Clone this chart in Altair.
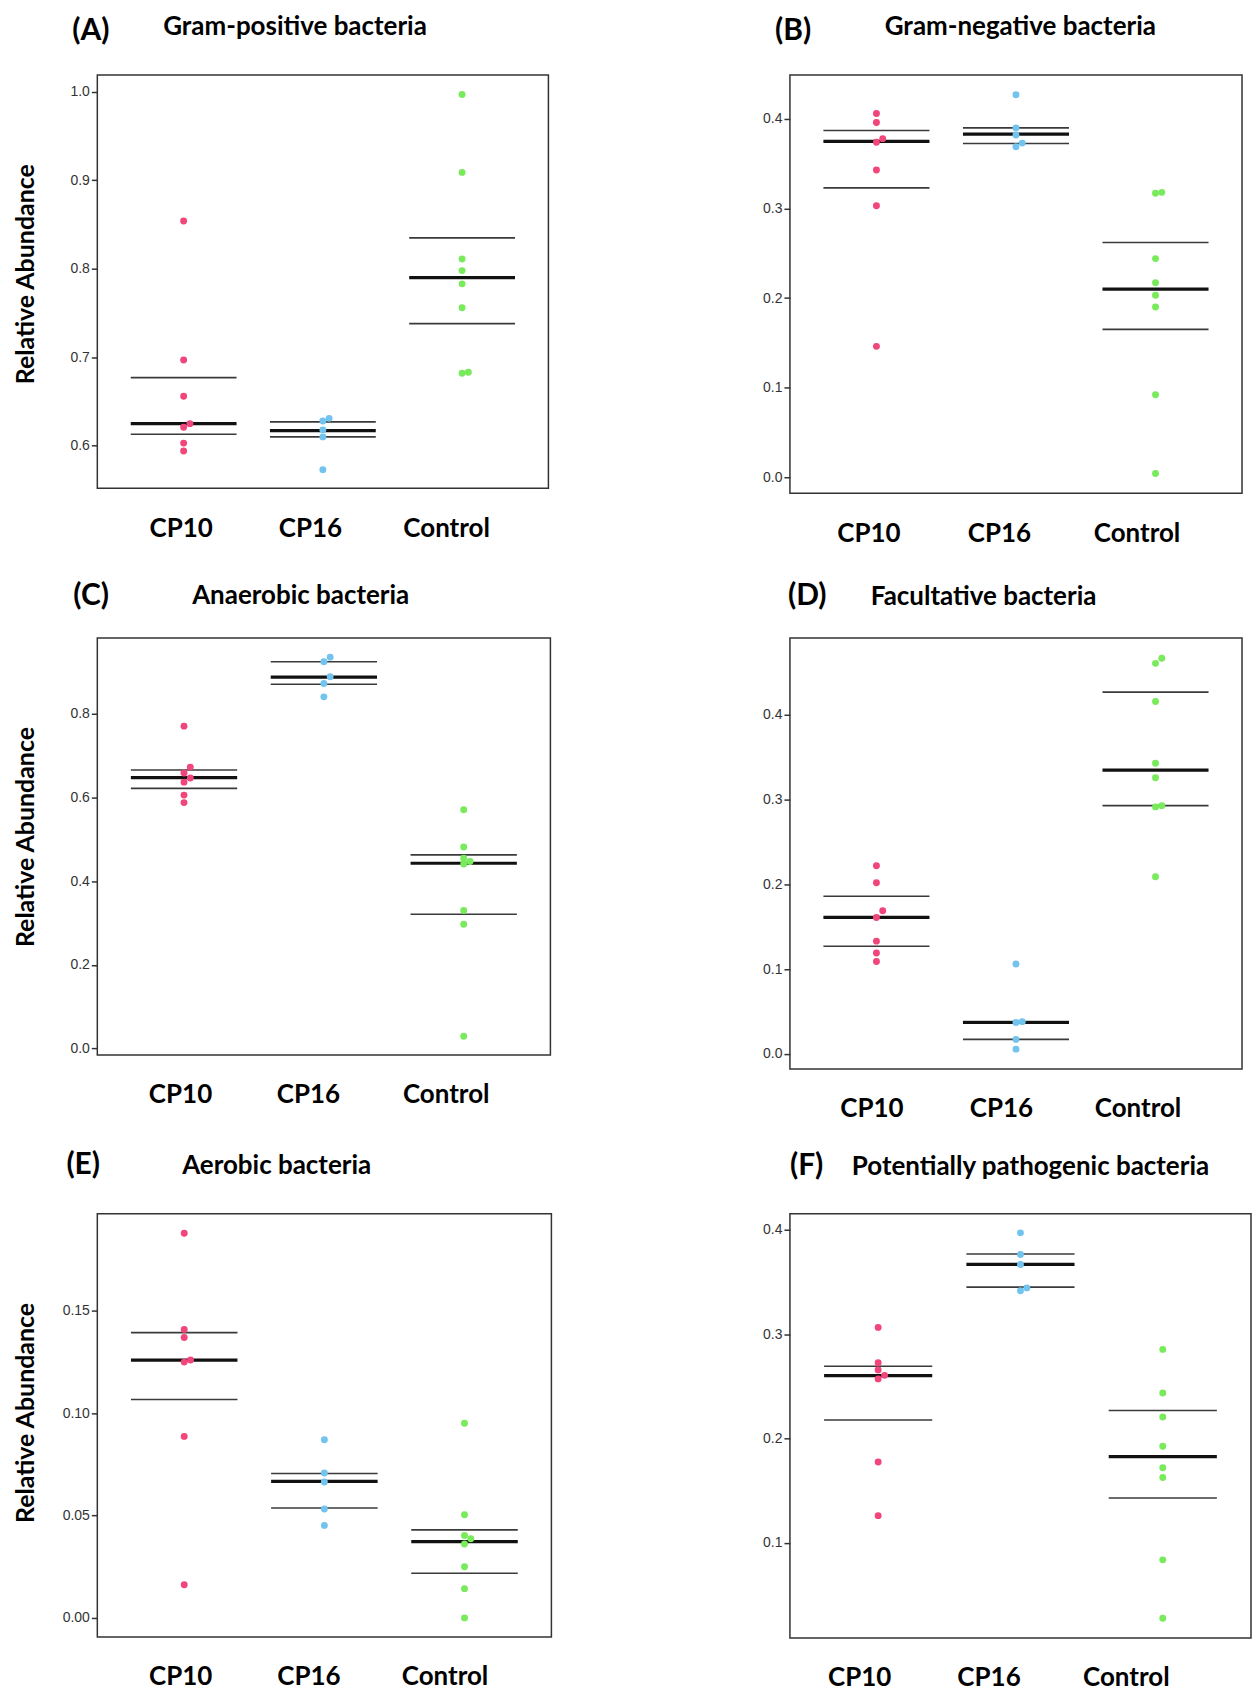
import json
import altair as alt
import pandas as pd

groups = ["CP10", "CP16", "Control"]
group_colors = ["#F0467B", "#72C3EE", "#79EA5B"]

# (A) Gram-positive bacteria
gpos_cp10 = [0.854, 0.697, 0.656, 0.625, 0.621, 0.603, 0.594]
gpos_cp16 = [0.631, 0.628, 0.618, 0.610, 0.573]
gpos_control = [0.997, 0.909, 0.811, 0.798, 0.783, 0.756, 0.683, 0.682]
gpos_q3 = [0.677, 0.627, 0.835]
gpos_med = [0.625, 0.617, 0.790]
gpos_q1 = [0.613, 0.610, 0.738]

# (B) Gram-negative bacteria
gneg_cp10 = [0.406, 0.396, 0.378, 0.374, 0.343, 0.303, 0.146]
gneg_cp16 = [0.427, 0.390, 0.382, 0.373, 0.369]
gneg_control = [0.318, 0.317, 0.244, 0.217, 0.203, 0.190, 0.092, 0.004]
gneg_q3 = [0.387, 0.390, 0.262]
gneg_med = [0.375, 0.383, 0.210]
gneg_q1 = [0.323, 0.3725, 0.165]

# (C) Anaerobic bacteria
anae_cp10 = [0.771, 0.673, 0.659, 0.647, 0.637, 0.606, 0.588]
anae_cp16 = [0.936, 0.925, 0.889, 0.873, 0.841]
anae_control = [0.571, 0.482, 0.455, 0.447, 0.441, 0.330, 0.297, 0.029]
anae_q3 = [0.666, 0.925, 0.463]
anae_med = [0.648, 0.888, 0.443]
anae_q1 = [0.622, 0.871, 0.321]

# (D) Facultative bacteria
facu_cp10 = [0.222, 0.202, 0.169, 0.161, 0.133, 0.119, 0.109]
facu_cp16 = [0.106, 0.038, 0.037, 0.017, 0.0055]
facu_control = [0.467, 0.461, 0.416, 0.343, 0.326, 0.293, 0.2915, 0.209]
facu_q3 = [0.186, 0.038, 0.427]
facu_med = [0.161, 0.037, 0.335]
facu_q1 = [0.127, 0.017, 0.293]

# (E) Aerobic bacteria
aero_cp10 = [0.188, 0.141, 0.137, 0.126, 0.125, 0.0887, 0.0162]
aero_cp16 = [0.0871, 0.0708, 0.0664, 0.0532, 0.0452]
aero_control = [0.0951, 0.0504, 0.0403, 0.0387, 0.0361, 0.025, 0.0143, 0.0]
aero_q3 = [0.1394, 0.0706, 0.043]
aero_med = [0.126, 0.0667, 0.0373]
aero_q1 = [0.1067, 0.0537, 0.0218]

# (F) Potentially pathogenic bacteria
path_cp10 = [0.3065, 0.2726, 0.2657, 0.2605, 0.2571, 0.1774, 0.1259]
path_cp16 = [0.3972, 0.3765, 0.3669, 0.3444, 0.3417]
path_control = [0.2854, 0.2436, 0.2205, 0.1925, 0.1718, 0.1625, 0.0835, 0.0275]
path_q3 = [0.2692, 0.3769, 0.2267]
path_med = [0.2602, 0.3669, 0.1825]
path_q1 = [0.2177, 0.3451, 0.1428]

LABEL_EXPR = json.dumps(groups) + "[datum.value]"
XSCALE = alt.Scale(domain=[-0.62, 2.62], nice=False, zero=False)


def make_panel(point_lists, q1, med, q3, domain, ticks, fmt, width, height,
               letter, name, letter_pos, name_pos, ytitle, label_shift):
    # small beeswarm-like offset for overlapping points
    rows = []
    span = domain[1] - domain[0]
    for gi, (g, vals) in enumerate(zip(groups, point_lists)):
        prev_v, prev_off = None, False
        for v in sorted(vals):
            off = False
            if prev_v is not None and not prev_off and abs(v - prev_v) / span * height < 7:
                off = True
            rows.append({"group": g, "idx": gi + (0.045 if off else 0.0), "value": v})
            prev_v, prev_off = v, off
    pts = pd.DataFrame(rows)

    stat_rows = []
    for gi, g in enumerate(groups):
        stat_rows.append({"group": g, "idx": gi, "stat": "q1", "value": q1[gi]})
        stat_rows.append({"group": g, "idx": gi, "stat": "med", "value": med[gi]})
        stat_rows.append({"group": g, "idx": gi, "stat": "q3", "value": q3[gi]})
    stats = pd.DataFrame(stat_rows)

    label_offset = {
        "condition": [
            {"test": "datum.value == 0", "value": label_shift[0]},
            {"test": "datum.value == 1", "value": label_shift[1]},
        ],
        "value": label_shift[2],
    }
    xaxis = alt.Axis(values=[0, 1, 2], labelExpr=LABEL_EXPR, ticks=False, domain=False,
                     grid=False, title=None, labelFont="Lato", labelFontWeight="bold",
                     labelFontSize=26, labelColor="black", labelPadding=27,
                     labelOffset=label_offset, labelFlush=False, labelOverlap=False)
    yaxis_kw = dict(values=ticks, format=fmt, grid=False, domain=False,
                    labelFont="Liberation Sans", labelFontSize=14, labelColor="#333",
                    tickSize=6, tickColor="#333", tickWidth=1.5, labelPadding=2,
                    labelFlush=False)
    if ytitle:
        yaxis = alt.Axis(title="Relative Abundance", titleX=-72, titleY=199,
                         titleAngle=270, titleAlign="center", titleBaseline="middle",
                         titleFont="Lato", titleFontSize=25, titleFontWeight="bold",
                         titleColor="black", **yaxis_kw)
    else:
        yaxis = alt.Axis(title=None, **yaxis_kw)
    yscale = alt.Scale(domain=domain, nice=False, zero=False)

    points = alt.Chart(pts).mark_circle(size=48, opacity=1).encode(
        x=alt.X("idx:Q", scale=XSCALE, axis=xaxis),
        y=alt.Y("value:Q", scale=yscale, axis=yaxis),
        color=alt.Color("group:N", scale=alt.Scale(domain=groups, range=group_colors),
                        legend=None),
    )
    base_rules = alt.Chart(stats).transform_calculate(
        x1="datum.idx - 0.38", x2="datum.idx + 0.38")
    quart = base_rules.transform_filter("datum.stat != 'med'").mark_rule(
        strokeWidth=1.6, color="#3a3a3a").encode(
        x=alt.X("x1:Q", scale=XSCALE, axis=xaxis),
        x2="x2:Q",
        y=alt.Y("value:Q", scale=yscale, axis=yaxis),
    )
    median = base_rules.transform_filter("datum.stat == 'med'").mark_rule(
        strokeWidth=3.2, color="#111").encode(
        x=alt.X("x1:Q", scale=XSCALE, axis=xaxis),
        x2="x2:Q",
        y=alt.Y("value:Q", scale=yscale, axis=yaxis),
    )
    letter_txt = alt.Chart(pd.DataFrame({"t": [letter]})).mark_text(
        align="left", baseline="alphabetic", font="Lato", fontWeight="bold",
        fontSize=30, color="black").encode(
        x=alt.value(letter_pos[0]), y=alt.value(letter_pos[1]), text="t:N")
    name_txt = alt.Chart(pd.DataFrame({"t": [name]})).mark_text(
        align="left", baseline="alphabetic", font="Lato", fontWeight="bold",
        fontSize=26, color="black").encode(
        x=alt.value(name_pos[0]), y=alt.value(name_pos[1]), text="t:N")
    return alt.layer(quart, median, points, letter_txt, name_txt).properties(
        width=width, height=height)


pA = make_panel([gpos_cp10, gpos_cp16, gpos_control], gpos_q1, gpos_med, gpos_q3,
                [0.552, 1.019], [0.6, 0.7, 0.8, 0.9, 1.0], ".1f", 452, 414,
                "(A)", "Gram-positive bacteria", (-25, -35), (66, -40), True,
                (-3, -13, -16))
pB = make_panel([gneg_cp10, gneg_cp16, gneg_control], gneg_q1, gneg_med, gneg_q3,
                [-0.018, 0.449], [0.0, 0.1, 0.2, 0.3, 0.4], ".1f", 453, 419,
                "(B)", "Gram-negative bacteria", (-15, -35), (95, -40), False,
                (-8, -17, -19))
pC = make_panel([anae_cp10, anae_cp16, anae_control], anae_q1, anae_med, anae_q3,
                [-0.016, 0.982], [0.0, 0.2, 0.4, 0.6, 0.8], ".1f", 454, 418,
                "(C)", "Anaerobic bacteria", (-24, -33), (95, -34), True,
                (-4, -16, -18))
pD = make_panel([facu_cp10, facu_cp16, facu_control], facu_q1, facu_med, facu_q3,
                [-0.018, 0.491], [0.0, 0.1, 0.2, 0.3, 0.4], ".1f", 453, 432,
                "(D)", "Facultative bacteria", (-2, -33), (81, -33), False,
                (-5, -15, -18))
pE = make_panel([aero_cp10, aero_cp16, aero_control], aero_q1, aero_med, aero_q3,
                [-0.0093, 0.1975], [0.0, 0.05, 0.10, 0.15], ".2f", 455, 424,
                "(E)", "Aerobic bacteria", (-31, -40), (85, -40), True,
                (-4, -16, -20))
pF = make_panel([path_cp10, path_cp16, path_control], path_q1, path_med, path_q3,
                [0.0086, 0.4155], [0.1, 0.2, 0.3, 0.4], ".1f", 462, 425,
                "(F)", "Potentially pathogenic bacteria", (0, -39), (62, -39), False,
                (-19, -32, -37))

chart = alt.concat(pA, pB, pC, pD, pE, pF, columns=2,
                   spacing={"row": 145, "column": 239},
                   bounds="flush", align="none").properties(
    padding={"left": 4.5, "top": 3.5, "right": 0, "bottom": 0}
).configure_view(stroke="#333", strokeWidth=1.5)

chart.save("out.html", embed_options={"renderer": "svg", "actions": False})
